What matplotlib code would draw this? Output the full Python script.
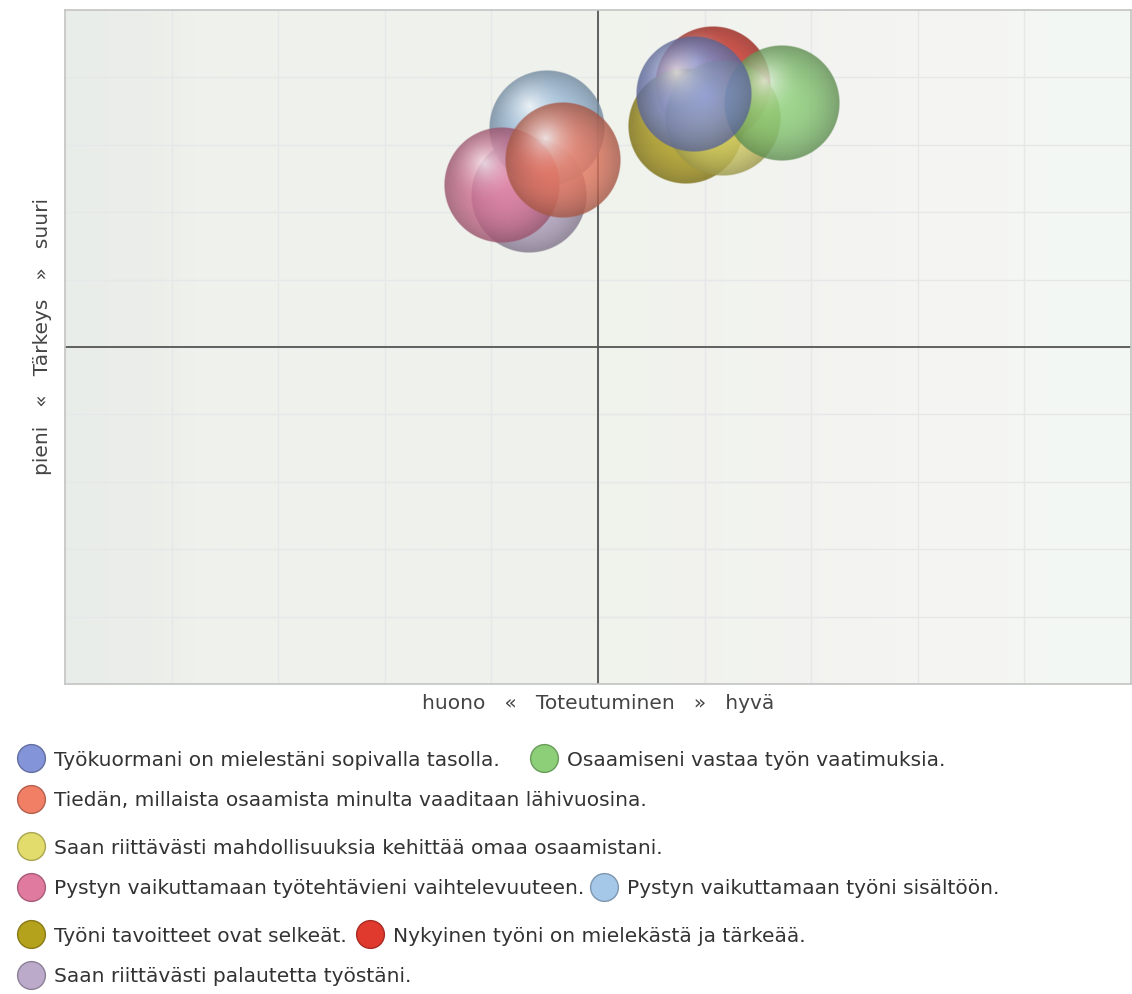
import numpy as np
import matplotlib.pyplot as plt
from matplotlib.colors import to_rgb
from matplotlib.lines import Line2D

plt.rcParams['font.family'] = ['DejaVu Sans']

labels = [
    "Työkuormani on mielestäni sopivalla tasolla.",
    "Osaamiseni vastaa työn vaatimuksia.",
    "Tiedän, millaista osaamista minulta vaaditaan lähivuosina.",
    "Saan riittävästi mahdollisuuksia kehittää omaa osaamistani.",
    "Pystyn vaikuttamaan työtehtävieni vaihtelevuuteen.",
    "Pystyn vaikuttamaan työni sisältöön.",
    "Työni tavoitteet ovat selkeät.",
    "Nykyinen työni on mielekästä ja tärkeää.",
    "Saan riittävästi palautetta työstäni.",
]
colors = ['#8494d8', '#8ccf78', '#f07f66', '#e2dc6c', '#e07a9e',
          '#a6c8e8', '#b5a21c', '#e0392e', '#bbaaca']
toteutuminen = [3.36, 3.69, 2.87, 3.47, 2.64, 2.81, 3.33, 3.43, 2.74]
tarkeys = [4.50, 4.45, 4.11, 4.36, 3.96, 4.30, 4.31, 4.56, 3.90]

# drawing order (last on top)
draw_order = [8, 5, 4, 2, 7, 6, 3, 1, 0]

W, H = 1132, 994
fig = plt.figure(figsize=(W / 100, H / 100), dpi=100)
ax = fig.add_axes([65 / W, 1 - 684 / H, 1066 / W, 674 / H])
xmin, xmax, ymin, ymax = 1, 5, 1, 5
ax.set_xlim(xmin, xmax)
ax.set_ylim(ymin, ymax)

# background gradient
stops_x = [0.0, 0.08, 0.12, 0.5, 0.85, 0.92, 1.0]
stops_c = ['#e8edea', '#eceeea', '#eff1ec', '#f0f2ec', '#f5f5f4', '#f4f7f3', '#f3f8f4']
gx = np.linspace(0, 1, 400)
rgb = np.array([np.interp(gx, stops_x, [to_rgb(c)[k] for c in stops_c]) for k in range(3)]).T
ax.imshow(rgb[None, :, :], extent=(xmin, xmax, ymin, ymax), aspect='auto',
          origin='lower', zorder=0, interpolation='bilinear')

grid = np.linspace(xmin, xmax, 11)
for g in grid[1:-1]:
    ax.axvline(g, color='#e5e7e8', lw=1, zorder=1)
    ax.axhline(g, color='#e5e7e8', lw=1, zorder=1)
ax.axvline(3, color='#555555', lw=1.3, zorder=2)
ax.axhline(3, color='#555555', lw=1.3, zorder=2)


def sphere(color, n=240):
    u = np.linspace(-1, 1, n)
    xx, yy = np.meshgrid(u, u)
    r = np.hypot(xx, yy)
    d = np.hypot(xx + 0.3, yy - 0.38)
    base = np.array(to_rgb(color))
    shade = base[None, None, :] * (0.68 + 0.32 * (1 - np.clip(r, 0, 1) ** 2.2))[..., None]
    glow = (np.clip(1 - d / 0.7, 0, 1) ** 2.0)[..., None] * 0.8
    img = shade * (1 - glow) + glow
    alpha = 0.82 * np.clip((1 - r) * n / 2, 0, 1)
    return np.dstack([np.clip(img, 0, 1), alpha])


radius_px = 58
rx = radius_px / 1066 * (xmax - xmin)
ry = radius_px / 674 * (ymax - ymin)
for z, i in enumerate(draw_order):
    x, y = toteutuminen[i], tarkeys[i]
    ax.imshow(sphere(colors[i]), extent=(x - rx, x + rx, y - ry, y + ry),
              origin='lower', aspect='auto', zorder=3 + z, interpolation='bilinear')
ax.set_xlim(xmin, xmax)
ax.set_ylim(ymin, ymax)

ax.set_xticks([])
ax.set_yticks([])
for s in ax.spines.values():
    s.set_color('#c4c4c4')
    s.set_linewidth(1.2)

ax.set_xlabel("huono   «   Toteutuminen   »   hyvä", fontsize=14.5, color='#444444', labelpad=7)
ax.set_ylabel("pieni   «   Tärkeys   »   suuri", fontsize=14.5, color='#444444')
ax.yaxis.set_label_coords(-0.012, 0.515)


def darker(c, f=0.75):
    return tuple(v * f for v in to_rgb(c))


legend_pos = [(17, 760), (530, 760), (17, 801), (17, 848), (17, 889),
              (590, 889), (17, 936), (356, 936), (17, 977)]
for i, (px, py) in enumerate(legend_pos):
    h = Line2D([], [], marker='o', linestyle='none', markersize=20,
               markerfacecolor=colors[i], markeredgecolor=darker(colors[i]),
               markeredgewidth=1)
    fig.legend([h], [labels[i]], loc='center left', bbox_to_anchor=(px / W, 1 - py / H),
               frameon=False, borderpad=0, borderaxespad=0, handlelength=1.38,
               handletextpad=0.45, fontsize=14.5, labelcolor='#333333')

fig.savefig('out.png', dpi=100)
